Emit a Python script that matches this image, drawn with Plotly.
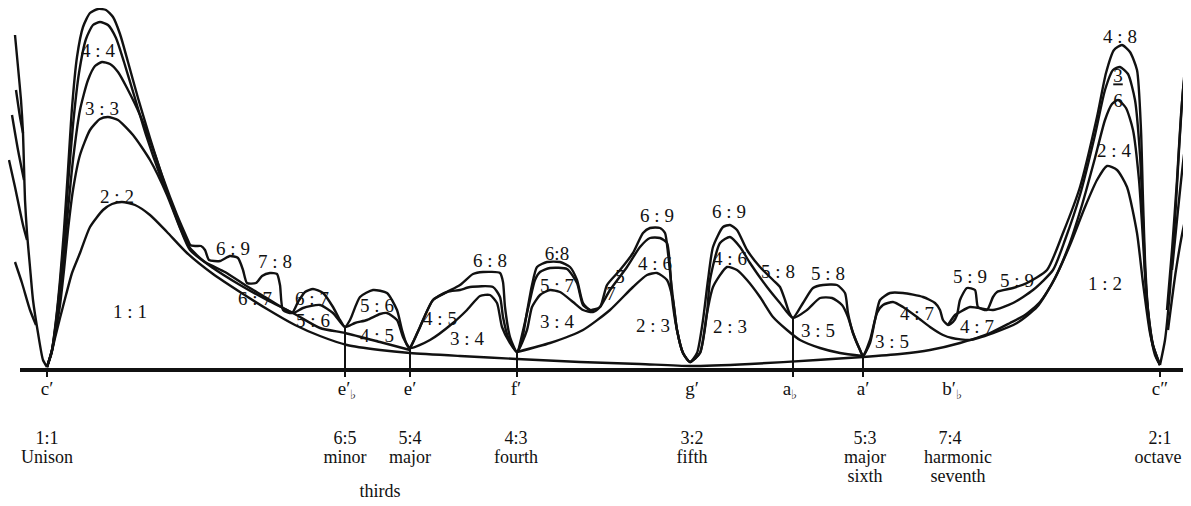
import plotly.graph_objects as go

# Roughness curves (Helmholtz): x = position along the interval axis (c' .. c''),
# y = roughness height above the baseline.

# short strokes left of c' (curves coming from the octave below)
fan_left_1 = [(15, 335), (18, 303), (21, 270), (23, 237), (24, 203), (25, 170), (27, 137), (30, 103),
              (33, 70), (38, 37), (43, 10), (47, 3)]
fan_left_2 = [(16, 280), (20, 253), (23, 237)]
fan_left_3 = [(12, 255), (18, 220), (24, 190)]
fan_left_4 = [(9, 210), (15, 183), (23, 145), (27, 130)]
fan_left_5 = [(15, 108), (22, 87), (30, 60), (36, 45)]

# short strokes right of c''
fan_right_1 = [(1160, 5), (1165, 30), (1170, 80), (1175, 150), (1179, 220), (1183, 280), (1187, 313)]
fan_right_2 = [(1167, 60), (1172, 120), (1177, 190), (1181, 255), (1185, 303)]
fan_right_3 = [(1172, 100), (1178, 160), (1184, 215), (1191, 257)]
fan_right_4 = [(1168, 40), (1176, 100), (1184, 145), (1191, 170)]

# lowest curve: 1:1 on the left, 1:2 on the right
curve_a = [(47, 3), (51, 15), (55, 32), (60, 52), (66, 75), (72, 97), (80, 117), (90, 143), (103, 160),
           (112, 166), (122, 168), (135, 165), (150, 155), (167, 138), (187, 117), (213, 96), (240, 78),
           (267, 61), (295, 45), (320, 34), (347, 25), (380, 20), (410, 17), (460, 14), (517, 11),
           (580, 8), (640, 6), (690, 4), (750, 6), (817, 10), (863, 13), (900, 16), (930, 20), (960, 27),
           (990, 37), (1010, 47), (1025, 55), (1040, 68), (1055, 92), (1070, 125), (1085, 163),
           (1097, 190), (1107, 204), (1117, 200), (1127, 183), (1137, 137), (1143, 87), (1150, 37),
           (1156, 14), (1160, 5)]

# 3:3 curve
curve_b = [(47, 3), (51, 15), (55, 35), (60, 65), (64, 100), (68, 140), (73, 180), (80, 215), (90, 240),
           (100, 251), (108, 253), (118, 250), (133, 235), (150, 210), (167, 175), (180, 142), (190, 120),
           (213, 102), (240, 85), (267, 70), (293, 57), (320, 42), (345, 37), (380, 28), (410, 20)]

# 4:4 curve, lower bumps, 2:4 on the right
curve_c = [(47, 3), (52, 20), (56, 45), (60, 78), (64, 115), (68, 160), (73, 210), (80, 260), (88, 290),
           (95, 304), (102, 308), (110, 306), (118, 298), (127, 282), (140, 255), (155, 215), (170, 170),
           (182, 138), (190, 122), (205, 108), (225, 98), (245, 85), (265, 73), (283, 62), (293, 57),
           (303, 62), (320, 65), (333, 57), (345, 43), (355, 47), (367, 50), (380, 56), (387, 57),
           (397, 50), (403, 33), (410, 22), (430, 30), (453, 47), (467, 60), (480, 74), (490, 75),
           (497, 67), (502, 43), (510, 27), (517, 18), (527, 40), (532, 63), (540, 75), (550, 80),
           (560, 78), (573, 68), (583, 60), (593, 58), (600, 63), (610, 80), (627, 103), (640, 123),
           (650, 132), (660, 132), (667, 127), (670, 103), (672, 73), (677, 40), (683, 17), (690, 8),
           (700, 17), (707, 57), (710, 90), (720, 127), (730, 133), (740, 123), (750, 107), (767, 83),
           (780, 67), (793, 52), (807, 60), (820, 72), (832, 72), (842, 65), (848, 53), (853, 37),
           (860, 20), (863, 14), (870, 30), (877, 57), (883, 65), (893, 68), (903, 63), (917, 53),
           (930, 43), (943, 35), (952, 32), (970, 30), (993, 37), (1017, 47), (1037, 63), (1053, 88),
           (1068, 122), (1082, 165), (1095, 212), (1105, 250), (1112, 266), (1118, 270), (1126, 262),
           (1133, 240), (1139, 190), (1143, 130), (1146, 80), (1150, 40), (1155, 15), (1160, 5)]

# upper envelope: 6:9, 7:8, 6:7, 5:6, 6:8, 6:8, 6:9, 6:9, 5:8, 5:8, 4:7, 5:9, 4:8
curve_d = [(47, 3), (52, 20), (56, 48), (60, 85), (64, 130), (68, 185), (73, 245), (79, 297), (86, 331),
           (93, 345), (100, 348), (108, 345), (116, 332), (124, 308), (134, 275), (146, 235), (160, 195),
           (175, 158), (190, 125), (196, 124), (201, 124), (205, 120), (209, 110), (220, 109), (230, 114),
           (238, 112), (243, 100), (247, 87), (256, 87), (262, 94), (270, 97), (277, 96), (280, 85),
           (283, 60), (292, 57), (298, 68), (305, 78), (313, 81), (323, 77), (333, 63), (340, 50),
           (345, 43), (350, 50), (360, 73), (373, 80), (387, 77), (397, 60), (402, 40), (407, 25),
           (410, 22), (415, 32), (420, 43), (433, 70), (447, 78), (460, 85), (473, 96), (483, 98),
           (500, 97), (503, 88), (505, 63), (510, 33), (517, 18), (522, 30), (527, 58), (532, 85),
           (537, 103), (547, 108), (560, 108), (570, 103), (577, 90), (583, 67), (590, 60), (600, 63),
           (607, 85), (620, 100), (633, 117), (643, 137), (650, 142), (660, 142), (665, 137), (668, 117),
           (672, 80), (677, 40), (683, 17), (690, 8), (697, 17), (703, 50), (708, 90), (713, 123),
           (723, 143), (730, 145), (737, 140), (747, 120), (760, 103), (773, 90), (780, 83), (785, 70),
           (789, 58), (793, 52), (803, 67), (813, 82), (823, 85), (837, 85), (845, 77), (848, 57),
           (853, 37), (860, 20), (863, 14), (870, 27), (875, 50), (880, 70), (890, 77), (903, 77),
           (923, 73), (935, 67), (940, 60), (943, 50), (948, 45), (953, 48), (957, 55), (960, 70),
           (967, 82), (975, 80), (978, 63), (987, 60), (993, 73), (997, 78), (1013, 82), (1027, 87),
           (1047, 100), (1063, 137), (1080, 183), (1097, 253), (1106, 297), (1114, 320), (1122, 325),
           (1130, 318), (1137, 300), (1141, 240), (1143, 170), (1145, 110), (1148, 60), (1153, 25),
           (1160, 5)]

# topmost curve near c' (merges into the envelope)
curve_e = [(47, 3), (52, 20), (56, 50), (60, 90), (64, 140), (68, 200), (72, 262), (77, 313), (83, 343),
           (90, 357), (98, 361), (106, 360), (113, 353), (120, 336), (128, 308), (138, 272), (150, 232),
           (163, 192), (177, 155), (190, 125)]

# middle curve between e' and the valley after f' (4:5 / 5:7)
curve_f = [(410, 22), (415, 32), (420, 43), (433, 70), (447, 78), (460, 80), (470, 83), (493, 83),
           (500, 73), (503, 53), (508, 33), (517, 18), (522, 35), (530, 70), (535, 90), (540, 98),
           (550, 102), (567, 101), (577, 87), (583, 65), (590, 60)]

# curve from b'b up to the 3:6 peak
curve_g = [(948, 45), (955, 55), (960, 58), (970, 63), (993, 60), (1013, 67), (1033, 80), (1053, 100),
           (1065, 130), (1080, 175), (1095, 235), (1105, 280), (1113, 300), (1120, 303), (1128, 296),
           (1135, 270), (1140, 215), (1143, 150), (1145, 100), (1148, 60), (1153, 25), (1160, 5)]

# 2:3 curve around the fifth
curve_23 = [(517, 18), (550, 27), (583, 40), (610, 60), (633, 83), (647, 95), (657, 97), (667, 90),
            (673, 70), (677, 40), (683, 17), (690, 8), (700, 17), (707, 57), (713, 83), (727, 103),
            (737, 100), (747, 90), (760, 73), (773, 53), (787, 40), (800, 30), (820, 22), (840, 17),
            (863, 14)]

# vertical lines dropped from the dips to the baseline
drop_pos = [345, 410, 517, 793, 863, 47, 1160]
drop_top = [43, 22, 18, 52, 14, 0, 0]

# ratio labels inside the chart
ratio_text = ["4 : 4", "3 : 3", "2 : 2", "1 : 1", "6 : 9", "7 : 8", "6 : 7", "6 : 7", "5 : 6", "5 : 6",
              "4 : 5", "4 : 5", "3 : 4", "6 : 8", "6:8", "5 : 7", "3 : 4", "5", "7", "6 : 9", "4 : 6",
              "2 : 3", "6 : 9", "4 : 6", "2 : 3", "5 : 8", "5 : 8", "3 : 5", "3 : 5", "4 : 7", "4 : 7",
              "5 : 9", "5 : 9", "4 : 8", "<u>3</u><br>6", "2 : 4", "1 : 2"]
ratio_x = [98, 102, 117, 130, 233, 275, 255, 312, 313, 377, 440, 377, 467, 490, 557, 557, 557, 620, 611,
           657, 655, 653, 729, 730, 730, 778, 828, 818, 892, 917, 977, 970, 1017, 1120, 1118, 1114, 1105]
ratio_y = [318, 260, 172, 57, 120, 107, 70, 70, 48, 63, 50, 33, 30, 108, 115, 83, 47, 92, 75, 153, 105,
           43, 157, 110, 42, 97, 95, 38, 27, 55, 42, 92, 88, 332, 280, 218, 85]

# labels under the axis
note_text = ["c′", "e′<sub>♭</sub>", "e′", "f′", "g′", "a<sub>♭</sub>", "a′", "b′<sub>♭</sub>", "c″"]
note_x = [47, 347, 410, 516, 692, 790, 863, 952, 1160]
interval_ratio = ["1:1", "6:5", "5:4", "4:3", "3:2", "5:3", "7:4", "2:1"]
interval_x = [47, 345, 410, 516, 692, 865, 950, 1160]
interval_name = ["Unison", "minor", "major", "fourth", "fifth", "major", "harmonic", "octave"]
name_x = [47, 345, 410, 516, 692, 865, 958, 1158]
interval_name2 = ["sixth", "seventh"]
name2_x = [865, 958]
group_name = ["thirds"]
group_x = [380]

FONT = "Liberation Serif, Times New Roman, serif"
INK = "#111"

fig = go.Figure()

curves = [fan_left_1, fan_left_2, fan_left_3, fan_left_4, fan_left_5,
          fan_right_1, fan_right_2, fan_right_3, fan_right_4,
          curve_a, curve_b, curve_c, curve_d, curve_e, curve_f, curve_g, curve_23]
for pts in curves:
    fig.add_trace(go.Scatter(
        x=[p[0] for p in pts], y=[p[1] for p in pts], mode='lines',
        line=dict(color=INK, width=2.4, shape='spline', smoothing=0.6),
        hoverinfo='skip', showlegend=False
    ))

# drop lines
xs, ys = [], []
for x, top in zip(drop_pos, drop_top):
    xs += [x, x, None]
    ys += [top, -7, None]
fig.add_trace(go.Scatter(x=xs, y=ys, mode='lines', line=dict(color=INK, width=2),
                         hoverinfo='skip', showlegend=False))

fig.add_trace(go.Scatter(
    x=ratio_x, y=ratio_y, mode='text', text=ratio_text, cliponaxis=False,
    textfont=dict(family=FONT, size=19, color=INK), hoverinfo='skip', showlegend=False
))

rows = [(note_text, note_x, -20, 19), (interval_ratio, interval_x, -69, 18), (interval_name, name_x, -88, 18),
        (interval_name2, name2_x, -107, 18), (group_name, group_x, -122, 18)]
for texts, xpos, level, size in rows:
    fig.add_trace(go.Scatter(
        x=xpos, y=[level] * len(xpos), mode='text', text=texts, cliponaxis=False,
        textfont=dict(family=FONT, size=size, color=INK), hoverinfo='skip', showlegend=False
    ))

# baseline
fig.add_shape(type='line', x0=20, x1=1191, y0=0, y1=0, line=dict(color=INK, width=4), layer='above')

# the page body has an 8px margin, so the figure is 8px smaller and starts at (8, 8)
fig.update_layout(
    width=1183, height=498,
    margin=dict(l=0, r=0, t=0, b=0),
    plot_bgcolor='white', paper_bgcolor='white',
    xaxis=dict(visible=False, range=[8, 1191], fixedrange=True),
    yaxis=dict(visible=False, range=[-136, 362], fixedrange=True),
    showlegend=False
)

fig.write_html("out.html")
